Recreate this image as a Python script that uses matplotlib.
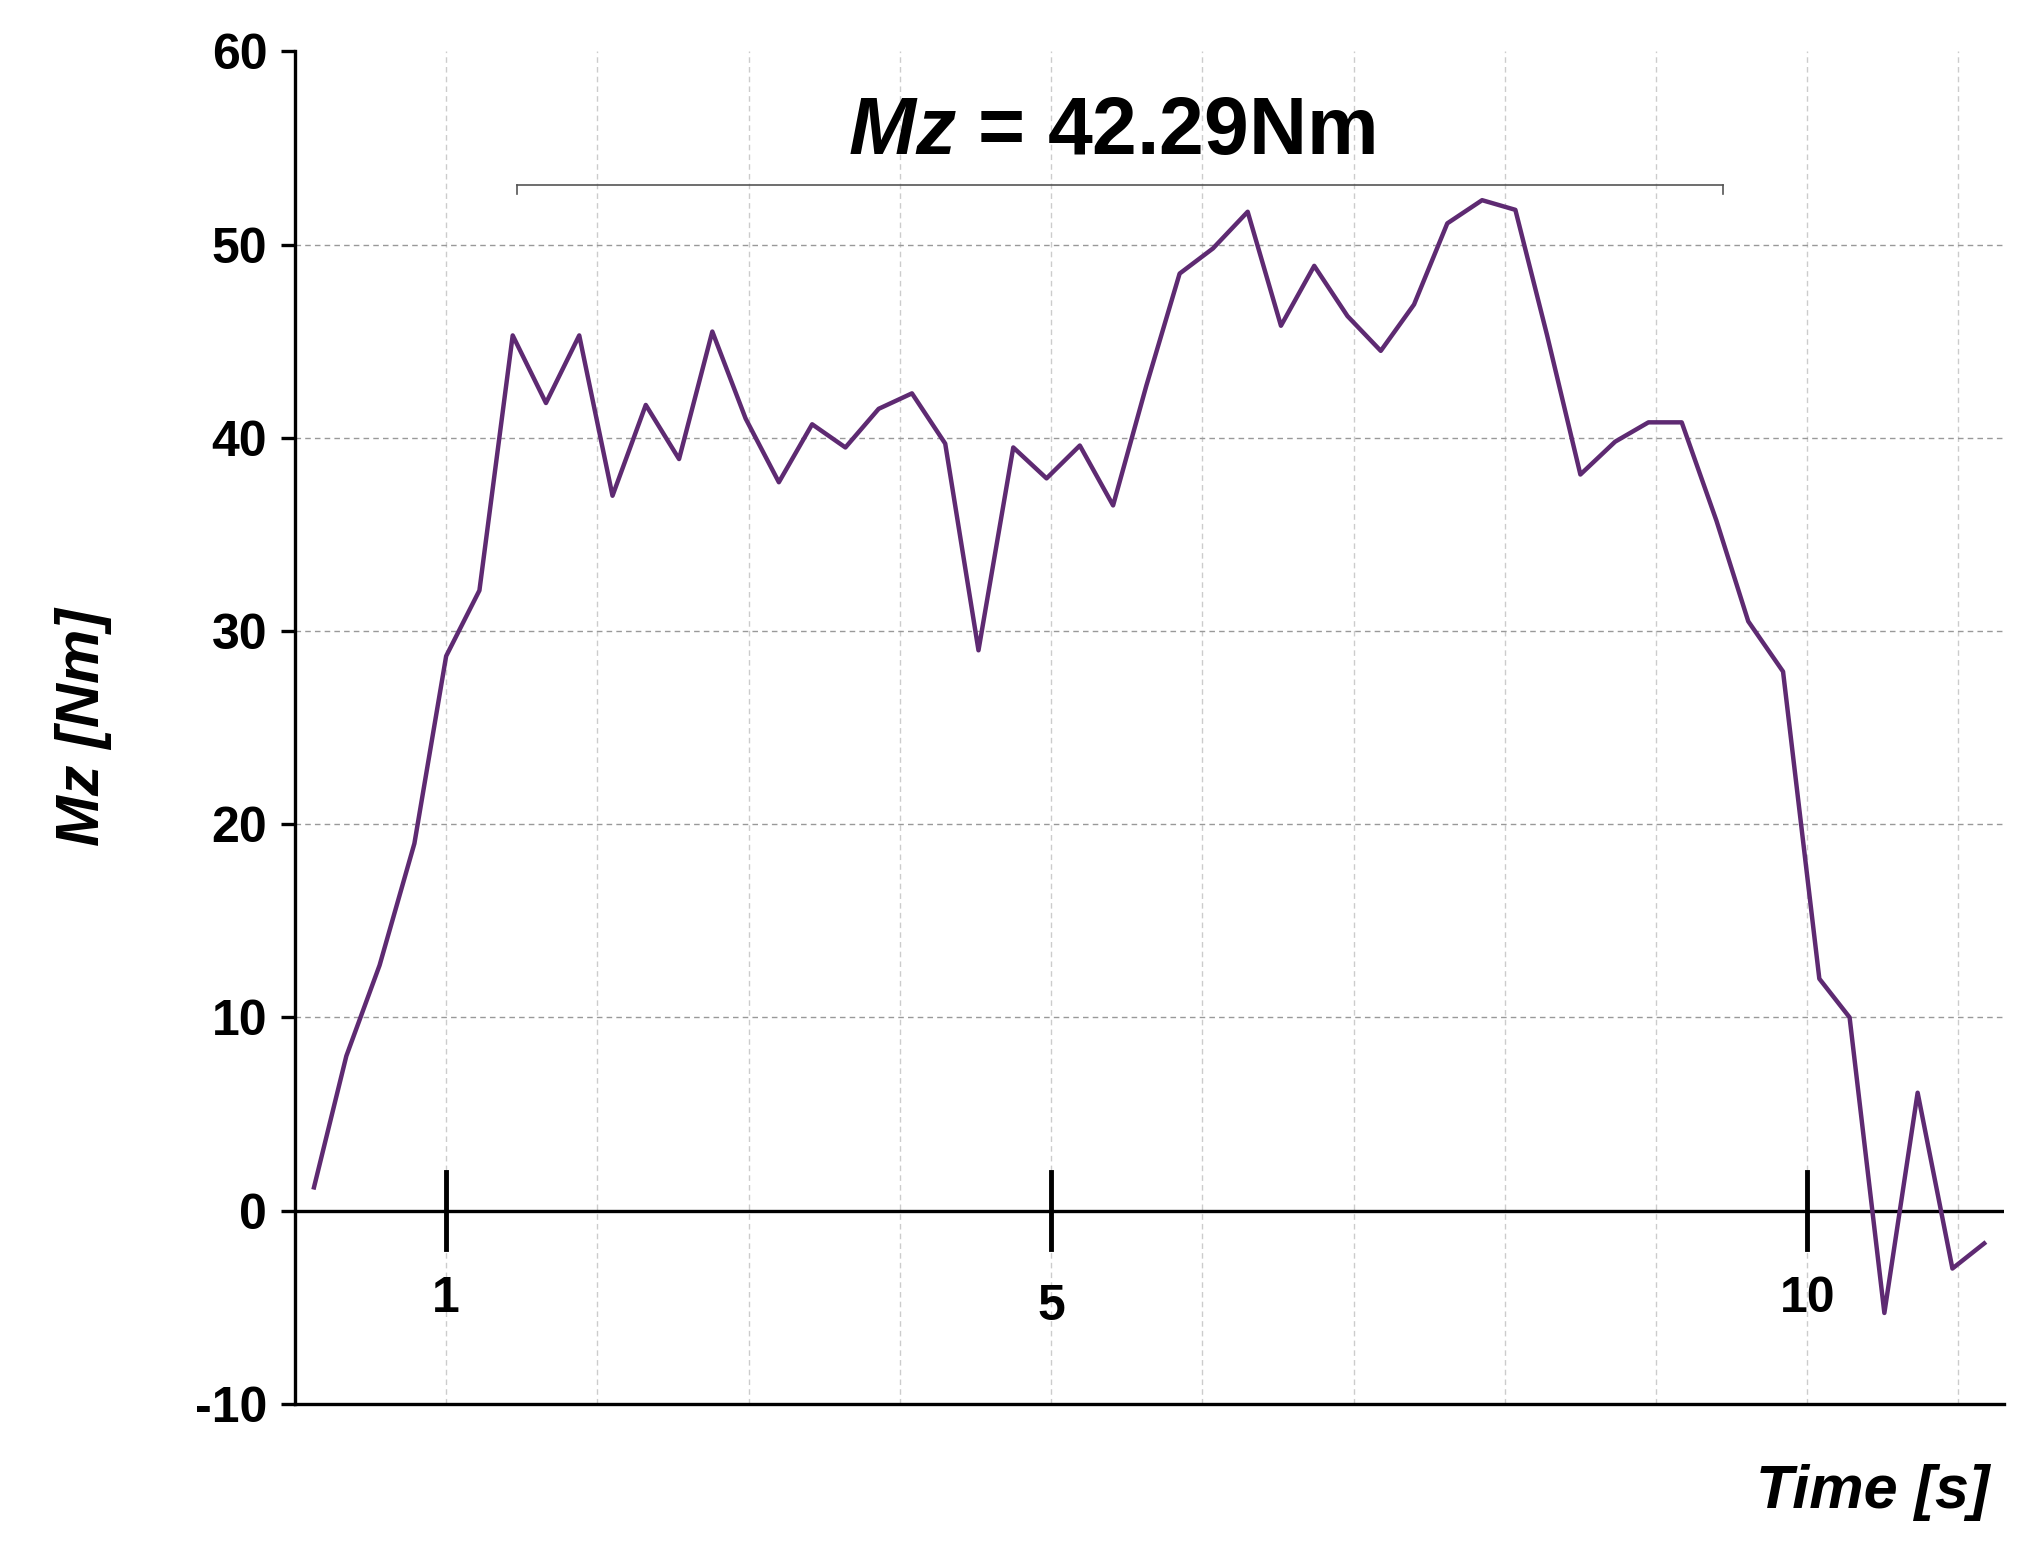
import matplotlib
matplotlib.use("Agg")
import matplotlib.pyplot as plt

time_s = [0.126,0.34,0.56,0.79,1.0,1.22,1.44,1.66,1.88,2.1,2.32,2.54,2.76,2.98,3.2,3.42,3.64,3.86,4.08,4.3,4.52,4.75,4.97,5.19,5.41,5.63,5.85,6.07,6.3,6.52,6.74,6.96,7.18,7.4,7.62,7.85,8.07,8.28,8.5,8.73,8.95,9.17,9.4,9.61,9.84,10.08,10.28,10.51,10.73,10.96,11.17]
mz_nm = [1.2,8,12.7,19,28.7,32.1,45.3,41.8,45.3,37,41.7,38.9,45.5,41,37.7,40.7,39.5,41.5,42.3,39.7,29,39.5,37.9,39.6,36.5,42.7,48.5,49.8,51.7,45.8,48.9,46.3,44.5,46.9,51.1,52.3,51.8,45.3,38.1,39.8,40.8,40.8,35.7,30.5,27.9,12,10,-5.3,6.1,-3,-1.7]
y_ticks = [-10,0,10,20,30,40,50,60]
x_labels = [1,5,10]

plt.rcParams['font.family'] = ['Liberation Sans', 'DejaVu Sans']
plt.rcParams['mathtext.fontset'] = 'custom'
plt.rcParams['mathtext.bfit'] = 'Liberation Sans:italic:bold'
fig = plt.figure(figsize=(20.2,15.58), dpi=100)
ax = fig.add_axes([0.146,0.099,0.846,0.868])
ax.set_xlim(0,11.3); ax.set_ylim(-10,60)
for v in range(1,12):
    ax.axvline(v, color='#cccccc', ls=(0,(4,3)), lw=1, zorder=0)
for v in [10,20,30,40,50]:
    ax.axhline(v, color='#999999', ls=(0,(4,3)), lw=1, zorder=0)
ax.axhline(0, color='black', lw=2.4, zorder=2)
ax.plot(time_s, mz_nm, color='#5e2a72', lw=3.2, zorder=3)
for s in ['top','right']:
    ax.spines[s].set_visible(False)
ax.spines['left'].set_linewidth(2.4); ax.spines['bottom'].set_linewidth(2.4)
ax.set_yticks(y_ticks)
ax.set_yticklabels([str(v) for v in y_ticks], fontsize=36, fontweight='bold')
ax.tick_params(axis='y', length=10, width=2.4, pad=10)
ax.set_xticks([])
offs = {1:-4.6, 5:-5, 10:-4.6}
for v in x_labels:
    ax.plot([v,v],[-2,2], color='black', lw=3.5, zorder=4)
    ax.text(v, offs[v], str(v), ha='center', va='center', fontsize=36, fontweight='bold')
ax.set_ylabel('Mz [Nm]', fontsize=44, fontweight='bold', style='italic', labelpad=60)
fig.text(0.985, 0.042, 'Time [s]', ha='right', va='center', fontsize=44, fontweight='bold', style='italic')
x0, x1, yb = 1.47, 9.44, 53.1
ax.plot([x0,x1],[yb,yb], color='#555555', lw=1.2)
for xx in (x0,x1):
    ax.plot([xx,xx],[yb,yb-0.5], color='#555555', lw=1.2)
ax.text(5.4, 55.8, r'$\bfit{Mz}$' + ' = 42.29Nm', ha='center', va='center', fontsize=58, fontweight='bold')
fig.savefig('out.png', dpi=100)
